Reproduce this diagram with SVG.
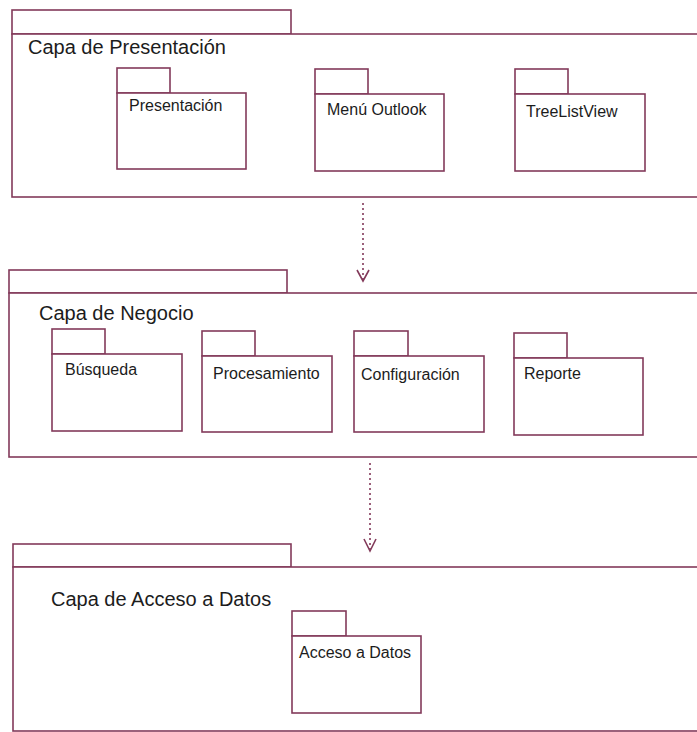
<svg xmlns="http://www.w3.org/2000/svg" width="697" height="732" viewBox="0 0 697 732">
  <style>
    .pk { fill: #ffffff; stroke: #833a5a; stroke-width: 1.6; }
    .layer-title { font-family: "Liberation Sans", Arial, sans-serif; font-size: 20px; fill: #1c1c1c; }
    .pk-label { font-family: "Liberation Sans", Arial, sans-serif; font-size: 16px; fill: #1c1c1c; }
    .dep { fill: none; stroke: #833a5a; stroke-width: 1.6; }
    .dep-line { stroke-dasharray: 2 3; }
  </style>
  <rect x="0" y="0" width="697" height="732" fill="#ffffff"/>

  <!-- Presentation layer -->
  <g id="capa-presentacion">
    <rect class="pk" x="12" y="10" width="279" height="24"/>
    <rect class="pk" x="12" y="34" width="700" height="163"/>
    <text class="layer-title" x="28" y="54">Capa de Presentación</text>
  </g>
  <g id="presentacion">
    <rect class="pk" x="117" y="68" width="53" height="25"/>
    <rect class="pk" x="117" y="93" width="129" height="76"/>
    <text class="pk-label" x="129" y="111">Presentación</text>
  </g>
  <g id="menu-outlook">
    <rect class="pk" x="315" y="69" width="53" height="25"/>
    <rect class="pk" x="315" y="94" width="129" height="77"/>
    <text class="pk-label" x="327" y="115">Menú Outlook</text>
  </g>
  <g id="tree-list-view">
    <rect class="pk" x="515" y="69" width="53" height="25"/>
    <rect class="pk" x="515" y="94" width="130" height="77"/>
    <text class="pk-label" x="526" y="117">TreeListView</text>
  </g>

  <!-- Business layer -->
  <g id="capa-negocio">
    <rect class="pk" x="9" y="270" width="278" height="23"/>
    <rect class="pk" x="9" y="293" width="700" height="164"/>
    <text class="layer-title" x="39" y="320">Capa de Negocio</text>
  </g>
  <g id="busqueda">
    <rect class="pk" x="52" y="329" width="53" height="25"/>
    <rect class="pk" x="52" y="354" width="130" height="77"/>
    <text class="pk-label" x="65" y="375">Búsqueda</text>
  </g>
  <g id="procesamiento">
    <rect class="pk" x="202" y="331" width="53" height="25"/>
    <rect class="pk" x="202" y="356" width="130" height="76"/>
    <text class="pk-label" x="213" y="379">Procesamiento</text>
  </g>
  <g id="configuracion">
    <rect class="pk" x="354" y="331" width="54" height="25"/>
    <rect class="pk" x="354" y="356" width="130" height="76"/>
    <text class="pk-label" x="361" y="380">Configuración</text>
  </g>
  <g id="reporte">
    <rect class="pk" x="514" y="333" width="53" height="25"/>
    <rect class="pk" x="514" y="358" width="129" height="77"/>
    <text class="pk-label" x="524" y="379">Reporte</text>
  </g>

  <!-- Data access layer -->
  <g id="capa-acceso-datos">
    <rect class="pk" x="13" y="544" width="278" height="23"/>
    <rect class="pk" x="13" y="567" width="700" height="164"/>
    <text class="layer-title" x="51" y="606">Capa de Acceso a Datos</text>
  </g>
  <g id="acceso-datos">
    <rect class="pk" x="292" y="611" width="54" height="25"/>
    <rect class="pk" x="292" y="636" width="129" height="77"/>
    <text class="pk-label" x="299" y="658">Acceso a Datos</text>
  </g>

  <!-- Dependencies between layers -->
  <g id="connectors">
    <line class="dep dep-line" x1="363" y1="203" x2="363" y2="279"/>
    <path class="dep" d="M357,270 L363,281 L369,270"/>
    <line class="dep dep-line" x1="370" y1="463" x2="370" y2="549"/>
    <path class="dep" d="M364,539 L370,551 L376,539"/>
  </g>
</svg>
